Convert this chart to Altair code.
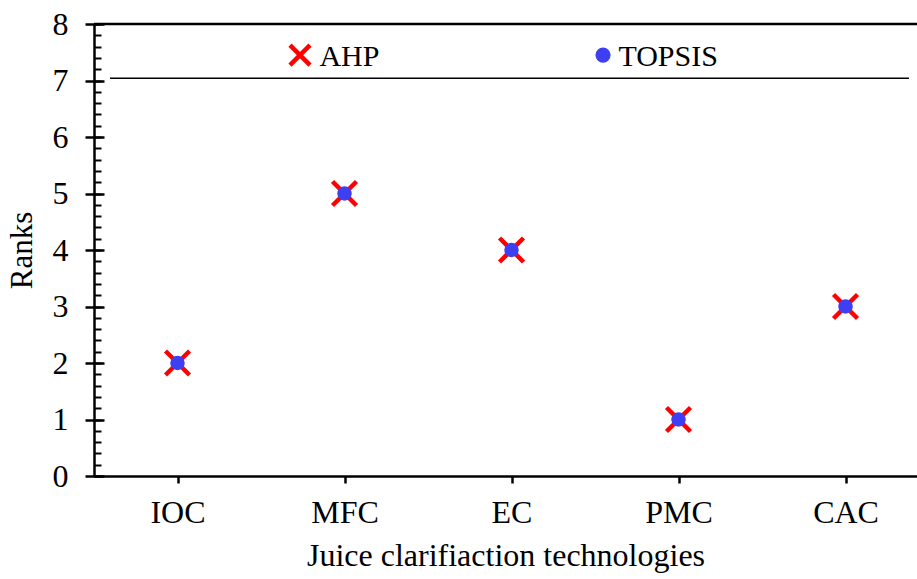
import json
import altair as alt
import pandas as pd

# ---- data ----
categories = ["IOC", "MFC", "EC", "PMC", "CAC"]
ahp_ranks = [2, 5, 4, 1, 3]
topsis_ranks = [2, 5, 4, 1, 3]
y_major_ticks = [0, 1, 2, 3, 4, 5, 6, 7, 8]
y_minor_ticks = [round(k * 0.2, 1) for k in range(41)]
legend_labels = ["AHP", "TOPSIS"]
x_title = "Juice clarifiaction technologies"
y_title = "Ranks"

# ---- layout / style ----
W, H = 823, 452
FONT = "Liberation Serif"
FS = 32
RED = "#FF0000"
BLUE = "#3F3FF2"
X_DOMAIN = [-0.5, 4.428]
Y_DOMAIN = [0, 8]
CROSS = "M-1,-1L1,1M1,-1L-1,1"

df = pd.DataFrame({
    "idx": list(range(len(categories))),
    "category": categories,
    "AHP": ahp_ranks,
    "TOPSIS": topsis_ranks,
})

xscale = alt.Scale(domain=X_DOMAIN, nice=False, zero=False)
yscale = alt.Scale(domain=Y_DOMAIN, nice=False, zero=False)

label_expr = json.dumps(categories) + "[round(datum.value)]"

x_axis = alt.Axis(
    values=list(range(len(categories))), labelExpr=label_expr, title=x_title,
    grid=False, domainColor="black", domainWidth=2.5, tickColor="black",
    tickWidth=2.5, tickSize=7, labelFont=FONT, labelFontSize=FS,
    labelColor="black", labelPadding=14, titleFont=FONT, titleFontSize=FS,
    titleFontWeight="normal", titleColor="black", titlePadding=12,
)
y_axis_main = alt.Axis(
    orient="left", offset=-10, values=y_major_ticks, tickSize=19,
    tickWidth=2.5, tickColor="black", domain=False, grid=False,
    labelFont=FONT, labelFontSize=FS, labelColor="black", labelPadding=17,
    title=y_title, titleFont=FONT, titleFontSize=31, titleFontWeight="normal",
    titleColor="black", titlePadding=14,
)
y_axis_inner = alt.Axis(
    orient="right", offset=-W, values=y_minor_ticks, tickSize=7,
    tickWidth=2, tickColor="black", domain=True, domainColor="black",
    domainWidth=2.5, grid=False, labels=False, title="",
)

base = alt.Chart(df)

crosses = base.mark_point(
    shape=CROSS, filled=False, stroke=RED, strokeWidth=4.5, size=576, opacity=1
).encode(
    x=alt.X("idx:Q", scale=xscale, axis=x_axis),
    y=alt.Y("AHP:Q", scale=yscale, axis=y_axis_main),
)

dots = base.mark_circle(color=BLUE, size=210, opacity=1).encode(
    x=alt.X("idx:Q", scale=xscale, axis=None),
    y=alt.Y("TOPSIS:Q", scale=yscale, axis=None),
)

top_rule = alt.Chart(pd.DataFrame({"k": [0]})).mark_rule(
    color="black", strokeWidth=2.5
).encode(
    x=alt.X(datum=X_DOMAIN[0], type="quantitative", scale=xscale, axis=None),
    x2=alt.X2(datum=X_DOMAIN[1]),
    y=alt.Y(datum=Y_DOMAIN[1], type="quantitative", scale=yscale, axis=y_axis_inner),
)

# legend (drawn inside the plot, Excel-style)
LEG_LINE_Y = 7.04
LEG_LINE_X = [-0.404, 4.38]
LEG_SYM_Y = 7.45
LEG_TEXT_Y = 7.257
LEG_SYM_X = [0.7335, 2.548]
LEG_TEXT_X = [0.85, 2.64]

leg_src = alt.Chart(pd.DataFrame({"k": [0]}))
leg_line = leg_src.mark_rule(color="black", strokeWidth=1.5).encode(
    x=alt.X(datum=LEG_LINE_X[0], type="quantitative", scale=xscale, axis=None),
    x2=alt.X2(datum=LEG_LINE_X[1]),
    y=alt.Y(datum=LEG_LINE_Y, type="quantitative", scale=yscale, axis=None),
)
leg_cross = leg_src.mark_point(
    shape=CROSS, filled=False, stroke=RED, strokeWidth=4.5, size=400, opacity=1
).encode(
    x=alt.X(datum=LEG_SYM_X[0], type="quantitative", scale=xscale, axis=None),
    y=alt.Y(datum=LEG_SYM_Y, type="quantitative", scale=yscale, axis=None),
)
leg_dot = leg_src.mark_circle(color=BLUE, size=230, opacity=1).encode(
    x=alt.X(datum=LEG_SYM_X[1], type="quantitative", scale=xscale, axis=None),
    y=alt.Y(datum=LEG_SYM_Y, type="quantitative", scale=yscale, axis=None),
)
leg_texts = []
for lab, tx in zip(legend_labels, LEG_TEXT_X):
    leg_texts.append(
        leg_src.mark_text(
            text=lab, font=FONT, fontSize=30, color="black", align="left",
            baseline="alphabetic",
        ).encode(
            x=alt.X(datum=tx, type="quantitative", scale=xscale, axis=None),
            y=alt.Y(datum=LEG_TEXT_Y, type="quantitative", scale=yscale, axis=None),
        )
    )

chart = alt.layer(
    crosses, top_rule, dots, leg_line, leg_cross, leg_dot, *leg_texts
).resolve_scale(x="shared", y="shared").resolve_axis(
    x="independent", y="independent"
).properties(
    width=W, height=H,
    autosize=alt.AutoSizeParams(type="none"),
    padding={"left": 94, "top": 24, "right": 0, "bottom": 103},
    background="white",
).configure_view(stroke=None)

chart.save("out.html", embed_options={"renderer": "svg", "actions": False})
